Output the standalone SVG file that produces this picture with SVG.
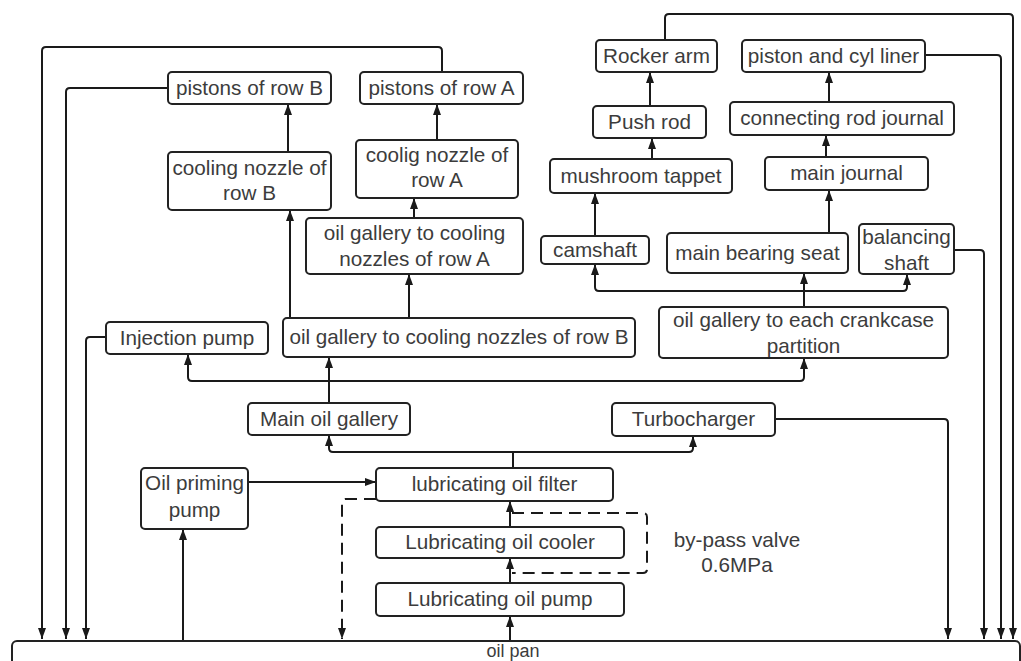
<svg xmlns="http://www.w3.org/2000/svg" width="1021" height="661" viewBox="0 0 1021 661">
<defs>
<marker id="ah" markerUnits="userSpaceOnUse" viewBox="0 0 11 8" refX="11" refY="4" markerWidth="11" markerHeight="8" orient="auto">
<path d="M0,0 L11,4 L0,8 z" fill="#1a1a1a"/>
</marker>
<style>
.box{fill:#fff;stroke:#222;stroke-width:2}
.t{font-family:"Liberation Sans",Arial,sans-serif;font-size:20.7px;fill:#3c3c3c;text-anchor:middle}
.c{fill:none;stroke:#1a1a1a;stroke-width:2}
.a{marker-end:url(#ah)}
.d{stroke-dasharray:12 7}
</style>
</defs>
<rect width="1021" height="661" fill="#fff"/>
<g id="connectors">
<path class="c a" d="M442,72 V51 Q442,47 438,47 H46 Q42,47 42,51 V639"/>
<path class="c a" d="M168,88 H70 Q66,88 66,92 V639"/>
<path class="c a" d="M106,337 H90 Q86,337 86,341 V639"/>
<path class="c a" d="M665,40 V18 Q665,14 669,14 H1009 Q1013,14 1013,18 V639"/>
<path class="c a" d="M925,55 H997 Q1001,55 1001,59 V639"/>
<path class="c a" d="M954,250 H980 Q984,250 984,254 V639"/>
<path class="c a" d="M775,419 H944 Q948,419 948,423 V639"/>
<path class="c a" d="M288,152 V104"/>
<path class="c a" d="M290,318 V210"/>
<path class="c a" d="M437,140 V104"/>
<path class="c a" d="M414,218 V198"/>
<path class="c a" d="M409,318 V274"/>
<path class="c a" d="M329,403 V357"/>
<path class="c a" d="M329,381 H192 Q188,381 188,377 V354"/>
<path class="c a" d="M329,381 H800 Q804,381 804,377 V358"/>
<path class="c" d="M513,468 V452"/>
<path class="c a" d="M513,452 H333 Q329,452 329,448 V435"/>
<path class="c a" d="M513,452 H689 Q693,452 693,448 V436"/>
<path class="c a" d="M248,482 H376"/>
<path class="c a" d="M183,641 V529"/>
<path class="c a" d="M510,641 V616"/>
<path class="c a" d="M510,583 V558"/>
<path class="c a" d="M510,527 V501"/>
<path class="c a d" d="M376,499 H346 Q342,499 342,503 V639"/>
<path class="c d" d="M512,513 H643 Q647,513 647,517 V569 Q647,573 643,573 H512"/>
<path class="c a" d="M804,307 V273"/>
<path class="c a" d="M804,291 H599 Q595,291 595,287 V264"/>
<path class="c a" d="M804,291 H903 Q907,291 907,287 V274"/>
<path class="c a" d="M829,233 V190"/>
<path class="c a" d="M826,157 V135"/>
<path class="c a" d="M829,102 V72"/>
<path class="c a" d="M595,236 V193"/>
<path class="c a" d="M652,159 V138"/>
<path class="c a" d="M650,106 V72"/>
</g>
<g id="pistonsB"><rect class="box" x="168" y="72" width="163" height="32" rx="4"/><text class="t" x="249.5" y="95">pistons of row B</text></g>
<g id="pistonsA"><rect class="box" x="360" y="72" width="163" height="32" rx="4"/><text class="t" x="441.5" y="95">pistons of row A</text></g>
<g id="coolingB"><rect class="box" x="168" y="152" width="163" height="58" rx="4"/><text class="t" x="249.5" y="175">cooling nozzle of</text><text class="t" x="249.5" y="200">row B</text></g>
<g id="coolingA"><rect class="box" x="356" y="140" width="162" height="58" rx="4"/><text class="t" x="437" y="162">coolig nozzle of</text><text class="t" x="437" y="187">row A</text></g>
<g id="galleryA"><rect class="box" x="306" y="218" width="217" height="56" rx="4"/><text class="t" x="414.5" y="240">oil gallery to cooling</text><text class="t" x="414.5" y="266">nozzles of row A</text></g>
<g id="galleryB"><rect class="box" x="283" y="318" width="352" height="39" rx="4"/><text class="t" x="459" y="344">oil gallery to cooling nozzles of row B</text></g>
<g id="injection"><rect class="box" x="106" y="322" width="162" height="32" rx="4"/><text class="t" x="187" y="345">Injection pump</text></g>
<g id="mainGallery"><rect class="box" x="248" y="403" width="162" height="32" rx="4"/><text class="t" x="329" y="426">Main oil gallery</text></g>
<g id="turbo"><rect class="box" x="612" y="403" width="163" height="33" rx="4"/><text class="t" x="693.5" y="426">Turbocharger</text></g>
<g id="priming"><rect class="box" x="141" y="468" width="107" height="61" rx="4"/><text class="t" x="194.5" y="490">Oil priming</text><text class="t" x="194.5" y="517">pump</text></g>
<g id="filter"><rect class="box" x="376" y="468" width="237" height="33" rx="4"/><text class="t" x="494.5" y="491">lubricating oil filter</text></g>
<g id="cooler"><rect class="box" x="376" y="527" width="248" height="31" rx="4"/><text class="t" x="500" y="549">Lubricating oil cooler</text></g>
<g id="pump"><rect class="box" x="376" y="583" width="248" height="33" rx="4"/><text class="t" x="500" y="606">Lubricating oil pump</text></g>
<g id="bypass"><text class="t" x="737" y="547">by-pass valve</text><text class="t" x="737" y="572">0.6MPa</text></g>
<g id="rocker"><rect class="box" x="596" y="40" width="121" height="32" rx="4"/><text class="t" x="656.5" y="63">Rocker arm</text></g>
<g id="pushrod"><rect class="box" x="593" y="106" width="113" height="32" rx="4"/><text class="t" x="649.5" y="129">Push rod</text></g>
<g id="tappet"><rect class="box" x="550" y="159" width="182" height="34" rx="4"/><text class="t" x="641" y="183">mushroom tappet</text></g>
<g id="camshaft"><rect class="box" x="541" y="236" width="108" height="28" rx="4"/><text class="t" x="595" y="257">camshaft</text></g>
<g id="mainBearing"><rect class="box" x="667" y="233" width="181" height="40" rx="4"/><text class="t" x="757.5" y="260">main bearing seat</text></g>
<g id="balancing"><rect class="box" x="859" y="224" width="95" height="50" rx="4"/><text class="t" x="906.5" y="244">balancing</text><text class="t" x="906.5" y="270">shaft</text></g>
<g id="crankcase"><rect class="box" x="659" y="307" width="289" height="51" rx="4"/><text class="t" x="803.5" y="327">oil gallery to each crankcase</text><text class="t" x="803.5" y="353">partition</text></g>
<g id="pistonLiner"><rect class="box" x="742" y="40" width="183" height="32" rx="4"/><text class="t" x="833.5" y="63">piston and cyl liner</text></g>
<g id="conrod"><rect class="box" x="730" y="102" width="224" height="33" rx="4"/><text class="t" x="842" y="125">connecting rod journal</text></g>
<g id="mainJournal"><rect class="box" x="765" y="157" width="163" height="33" rx="4"/><text class="t" x="846.5" y="180">main journal</text></g>
<g id="oilPan"><rect class="box" x="12" y="641" width="1008" height="40" rx="5"/><text class="t" x="513" y="657" style="font-size:18px">oil pan</text></g>
</svg>
